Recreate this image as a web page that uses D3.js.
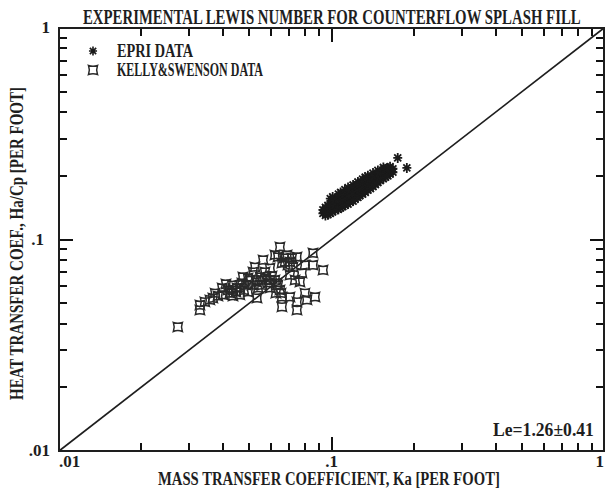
<!DOCTYPE html>
<html>
<head>
<meta charset="utf-8">
<script src="https://cdn.jsdelivr.net/npm/d3@7"></script>
<style>
  html, body { margin: 0; padding: 0; background: #fff; }
  svg text { font-family: "Liberation Serif", "DejaVu Serif", serif; font-weight: bold; fill: #1e1e1e; }
  .tickmarks { stroke: #111; stroke-width: 2.2px; fill: none; shape-rendering: crispEdges; }
</style>
</head>
<body>
<svg id="chart" width="607" height="491"></svg>
<script>
// Axis tick labels (log decades)
const xTickValues = [0.01, 0.1, 1];
const xTickLabels = [".01", ".1", "1"];
const yTickValues = [0.01, 0.1, 1];
const yTickLabels = [".01", ".1", "1"];
const minorTicks = [0.02, 0.03, 0.04, 0.05, 0.06, 0.07, 0.08, 0.09,
                    0.2, 0.3, 0.4, 0.5, 0.6, 0.7, 0.8, 0.9];
const majorTicks = [0.1];

// EPRI data: mass transfer Ka (x) and heat transfer Ha/Cp (y), per foot
const epriKa = [
  0.093, 0.093,
  0.095, 0.095, 0.095,
  0.097, 0.097, 0.097,
  0.099, 0.099, 0.099, 0.099,
  0.101, 0.101, 0.101, 0.101,
  0.103, 0.103, 0.103,
  0.106, 0.106, 0.106, 0.106,
  0.108, 0.108, 0.108, 0.108,
  0.110, 0.110, 0.110,
  0.112, 0.112, 0.112, 0.112,
  0.115, 0.115, 0.115, 0.115,
  0.117, 0.117, 0.117,
  0.120, 0.120, 0.120, 0.120,
  0.122, 0.122, 0.122,
  0.125, 0.125, 0.125, 0.125,
  0.127, 0.127, 0.127,
  0.130, 0.130, 0.130, 0.130,
  0.133, 0.133, 0.133, 0.133,
  0.136, 0.136, 0.136, 0.136,
  0.139, 0.139, 0.139,
  0.142, 0.142, 0.142, 0.142,
  0.145, 0.145, 0.145,
  0.148, 0.148, 0.148, 0.148,
  0.151, 0.151, 0.151,
  0.155, 0.155, 0.155, 0.155,
  0.158, 0.158, 0.158,
  0.161, 0.161, 0.161,
  0.164, 0.164, 0.164,
  0.168, 0.168,
  0.175, 0.189
];
const epriHa = [
  0.133, 0.138,
  0.130, 0.136, 0.142,
  0.131, 0.138, 0.145,
  0.133, 0.140, 0.148, 0.156,
  0.135, 0.143, 0.151, 0.159,
  0.137, 0.145, 0.153,
  0.139, 0.147, 0.156, 0.164,
  0.141, 0.150, 0.159, 0.167,
  0.143, 0.152, 0.161,
  0.145, 0.154, 0.164, 0.172,
  0.147, 0.157, 0.167, 0.176,
  0.150, 0.160, 0.170,
  0.152, 0.162, 0.173, 0.181,
  0.155, 0.165, 0.176,
  0.158, 0.168, 0.179, 0.187,
  0.161, 0.171, 0.182,
  0.164, 0.174, 0.185, 0.193,
  0.167, 0.177, 0.188, 0.197,
  0.171, 0.181, 0.191, 0.200,
  0.174, 0.184, 0.194,
  0.178, 0.188, 0.198, 0.206,
  0.182, 0.192, 0.201,
  0.186, 0.196, 0.205, 0.212,
  0.190, 0.199, 0.208,
  0.194, 0.203, 0.212, 0.219,
  0.197, 0.206, 0.215,
  0.200, 0.209, 0.218,
  0.204, 0.212, 0.221,
  0.208, 0.216,
  0.243, 0.218
];

// Kelly & Swenson data
const ksKa = [
  0.0273, 0.0329, 0.0329, 0.0343, 0.0367, 0.0374, 0.0397, 0.0400, 0.0432, 0.0424,
  0.0450, 0.0469, 0.0473, 0.0494, 0.0515, 0.0524, 0.0561, 0.0547, 0.0533, 0.0570,
  0.0585, 0.0595, 0.0620, 0.0647, 0.0636, 0.0658, 0.0687, 0.0704, 0.0722, 0.0747,
  0.0704, 0.0735, 0.0766, 0.0779, 0.0799, 0.0855, 0.0855, 0.0931, 0.0658, 0.0658,
  0.0704, 0.0747, 0.0747, 0.0799, 0.0813, 0.0870, 0.0595, 0.0631,
  0.0417, 0.0435, 0.0446, 0.0461, 0.0477, 0.0486, 0.0461, 0.0435, 0.0494, 0.0511,
  0.0529, 0.0538, 0.0556, 0.0556, 0.0575, 0.0595, 0.0605, 0.0620, 0.0636, 0.0647,
  0.0625, 0.0653, 0.0675, 0.0692, 0.0670, 0.0716, 0.0410, 0.0383, 0.0358, 0.0502
];
const ksHa = [
  0.0386, 0.0490, 0.0464, 0.0507, 0.0529, 0.0558, 0.0590, 0.0547, 0.0609, 0.0558,
  0.0590, 0.0623, 0.0665, 0.0658, 0.0702, 0.0741, 0.0800, 0.0665, 0.0529, 0.0702,
  0.0623, 0.0733, 0.0845, 0.0922, 0.0827, 0.0774, 0.0845, 0.0783, 0.0741, 0.0827,
  0.0679, 0.0643, 0.0630, 0.0694, 0.0757, 0.0863, 0.0757, 0.0717, 0.0535, 0.0480,
  0.0535, 0.0507, 0.0464, 0.0558, 0.0518, 0.0535, 0.0590, 0.0623,
  0.0577, 0.0577, 0.0565, 0.0590, 0.0577, 0.0609, 0.0547, 0.0541, 0.0565, 0.0609,
  0.0630, 0.0590, 0.0609, 0.0643, 0.0658, 0.0643, 0.0672, 0.0643, 0.0609, 0.0577,
  0.0558, 0.0558, 0.0783, 0.0757, 0.0818, 0.0818, 0.0616, 0.0541, 0.0518, 0.0643
];

const titleText = "EXPERIMENTAL LEWIS NUMBER FOR COUNTERFLOW SPLASH FILL";
const xLabel = "MASS TRANSFER COEFFICIENT, Ka [PER FOOT]";
const yLabel = "HEAT TRANSFER COEF., Ha/Cp [PER FOOT]";
const legendLabels = ["EPRI DATA", "KELLY&SWENSON DATA"];
const lewisLabel = "Le=1.26\u00b10.41";

const ink = "#1e1e1e";
const svg = d3.select("#chart");

const x = d3.scaleLog().domain([0.01, 1]).range([59, 604]);
const y = d3.scaleLog().domain([0.01, 1]).range([451, 28]);
const x0 = x(0.01), x1 = x(1), y0 = y(0.01), y1 = y(1);

// Inward ticks on all four sides, one rect per tick mark
const tickSpecs = [];
minorTicks.forEach(v => tickSpecs.push({ v: v, len: 8 }));
majorTicks.forEach(v => tickSpecs.push({ v: v, len: 14 }));
const tg = svg.append("g").attr("fill", "#111");
tickSpecs.forEach(d => {
  const px = Math.round(x(d.v)), py = Math.round(y(d.v));
  tg.append("rect").attr("x", px - 1).attr("y", y0 - d.len).attr("width", 2).attr("height", d.len);
  tg.append("rect").attr("x", px - 1).attr("y", y1).attr("width", 2).attr("height", d.len);
  tg.append("rect").attr("x", x0).attr("y", py - 1).attr("width", d.len).attr("height", 2);
  tg.append("rect").attr("x", x1 - d.len).attr("y", py - 1).attr("width", d.len).attr("height", 2);
});

// Frame
svg.append("rect")
  .attr("x", x0).attr("y", y1)
  .attr("width", x1 - x0).attr("height", y0 - y1)
  .attr("fill", "none").attr("stroke", ink).attr("stroke-width", 2);

// Tick labels
svg.selectAll("text.xlab").data(xTickValues).enter().append("text")
  .attr("class", "xlab")
  .attr("x", d => x(d)).attr("y", 467)
  .attr("text-anchor", (d, i) => i === 0 ? "start" : (i === 2 ? "end" : "middle"))
  .attr("font-size", 17)
  .text((d, i) => xTickLabels[i]);
svg.selectAll("text.ylab").data(yTickValues).enter().append("text")
  .attr("class", "ylab")
  .attr("x", (d, i) => i === 1 ? 44 : 50).attr("y", d => y(d) + 5)
  .attr("text-anchor", "end")
  .attr("font-size", 17)
  .text((d, i) => yTickLabels[i]);

// Line of unit Lewis number (Ha/Cp = Ka)
svg.append("line")
  .attr("x1", x(0.01)).attr("y1", y(0.01))
  .attr("x2", x(1)).attr("y2", y(1))
  .attr("stroke", ink).attr("stroke-width", 1.6);

// Markers
const asterisk = "M-4.5,0L4.5,0M0,-5L0,5M-3.5,-3.5L3.5,3.5M-3.5,3.5L3.5,-3.5";
const fourStar = "M-4.5,-4.5Q0,-2.8 4.5,-4.5Q2.8,0 4.5,4.5Q0,2.8 -4.5,4.5Q-2.8,0 -4.5,-4.5Z";

const ksPts = ksKa.map((k, i) => [k, ksHa[i]]);
svg.append("g").selectAll("path").data(ksPts).enter().append("path")
  .attr("d", fourStar)
  .attr("transform", d => `translate(${x(d[0])},${y(d[1])})`)
  .attr("fill", "none").attr("stroke", "#2a2a2a").attr("stroke-width", 1.5);

const epriPts = epriKa.map((k, i) => [k, epriHa[i]]);
svg.append("g").selectAll("path").data(epriPts).enter().append("path")
  .attr("d", asterisk)
  .attr("transform", d => `translate(${x(d[0])},${y(d[1])})`)
  .attr("fill", "none").attr("stroke", "#1a1a1a").attr("stroke-width", 1.8);

// Legend symbols
svg.append("path").attr("d", asterisk).attr("transform", "translate(93,51) scale(0.9)")
  .attr("fill", "none").attr("stroke", "#1a1a1a").attr("stroke-width", 1.8);
svg.append("path").attr("d", fourStar).attr("transform", "translate(93,70)")
  .attr("fill", "none").attr("stroke", "#2a2a2a").attr("stroke-width", 1.5);

// Condensed text: set at a tall size, then squeezed horizontally to a given width
function condensed(str, tx, ty, width, size, angle) {
  const t = svg.append("text").attr("font-size", size).text(str);
  const natural = t.node().getComputedTextLength();
  const sx = width / natural;
  t.attr("transform", `translate(${tx},${ty}) rotate(${angle || 0}) scale(${sx},1)`);
  return t;
}
condensed(legendLabels[0], 117, 57, 76, 18);
condensed(legendLabels[1], 117, 76, 146, 18);
condensed(titleText, 83, 24, 498, 21);
condensed(xLabel, 158, 485, 342, 19);
condensed(yLabel, 23, 400, 313, 19, -90);
condensed(lewisLabel, 493, 436, 101, 19);
</script>
</body>
</html>
